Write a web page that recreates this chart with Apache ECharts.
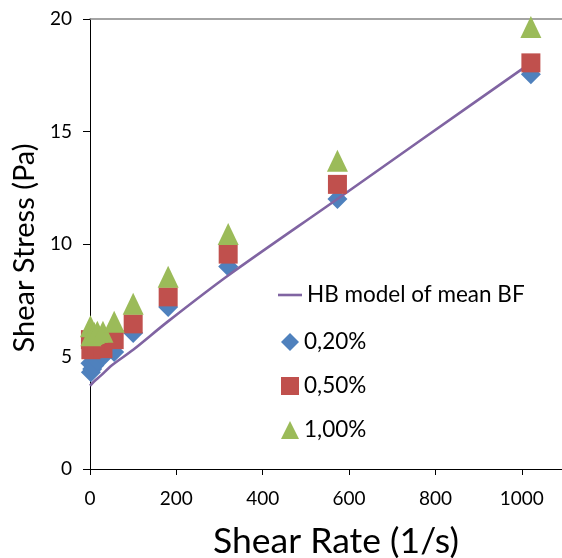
<!DOCTYPE html>
<html>
<head>
<meta charset="utf-8">
<script src="https://cdn.jsdelivr.net/npm/echarts@6/dist/echarts.min.js"></script>
<style>
  html, body { margin: 0; padding: 0; background: #fff; }
  #chart { width: 562px; height: 558px; }
</style>
</head>
<body>
<div id="chart"></div>
<script>
const shearRate = [1, 2, 5, 10, 17, 30, 56, 100, 181, 320, 573, 1021];
const stress020 = [4.7, 4.3, 4.45, 4.6, 4.8, 5.0, 5.2, 6.05, 7.2, 9.0, 12.0, 17.55];
const stress050 = [5.75, 5.3, 5.35, 5.45, 5.5, 5.35, 5.75, 6.45, 7.65, 9.55, 12.65, 18.05];
const stress100 = [6.35, 5.95, 6.0, 6.05, 6.1, 6.1, 6.55, 7.35, 8.55, 10.45, 13.7, 19.65];

// HB model line
const modelRate = [0, 10, 25, 50, 100, 180, 320, 573, 765, 1021];
const modelStress = [3.7, 3.9, 4.15, 4.6, 5.3, 6.55, 8.6, 12.0, 14.6, 18.05];

const seriesNames = ['HB model of mean BF', '0,20%', '0,50%', '1,00%'];

const FONT = 'Lato';
const pairs = (xs, ys) => xs.map((x, i) => [x, ys[i]]);
const legendText = { fontFamily: FONT, fontSize: 22.5, color: '#000', lineHeight: 24 };

const chart = echarts.init(document.getElementById('chart'));

const option = {
  animation: false,
  backgroundColor: '#fff',
  textStyle: { fontFamily: FONT },
  grid: { left: 90, top: 19, width: 475, height: 450, outerBoundsMode: 'none', containLabel: false },
  legend: [
    {
      // line entry
      orient: 'vertical',
      left: 273,
      top: 278,
      itemWidth: 24,
      itemHeight: 18,
      textStyle: legendText,
      data: [{ name: seriesNames[0], icon: 'path://M0,0H24V2.6H0Z' }]
    },
    {
      // marker entries
      orient: 'vertical',
      left: 276,
      top: 325,
      itemWidth: 18,
      itemHeight: 18,
      itemGap: 20,
      textStyle: legendText,
      data: seriesNames.slice(1)
    }
  ],
  xAxis: [
    {
      type: 'value',
      min: 0,
      max: 1100,
      interval: 200,
      name: 'Shear Rate (1/s)',
      nameLocation: 'middle',
      nameGap: 55,
      nameTextStyle: { fontFamily: FONT, fontSize: 35.5, color: '#000', padding: [0, 0, 0, 17] },
      axisLine: { lineStyle: { color: '#000', width: 1 } },
      axisTick: { inside: false, length: 6, lineStyle: { color: '#000' } },
      axisLabel: {
        fontFamily: FONT, fontSize: 19, color: '#000', margin: 20, showMaxLabel: false,
        formatter: v => String(v)
      },
      splitLine: { show: false }
    },
    {
      type: 'value',
      position: 'top',
      min: 0,
      max: 1100,
      axisLine: { show: true, lineStyle: { color: '#868686', width: 1.5 } },
      axisTick: { show: false },
      axisLabel: { show: false },
      splitLine: { show: false }
    }
  ],
  yAxis: {
    type: 'value',
    min: 0,
    max: 20,
    interval: 5,
    name: 'Shear Stress (Pa)',
    nameLocation: 'middle',
    nameGap: 46,
    nameTextStyle: { fontFamily: FONT, fontSize: 29, color: '#000', padding: [0, 8, 0, 0] },
    axisLine: { show: true, lineStyle: { color: '#000', width: 1 } },
    axisTick: { show: true, inside: false, length: 7, lineStyle: { color: '#000' } },
    axisLabel: { fontFamily: FONT, fontSize: 19, color: '#000', margin: 18 },
    splitLine: { show: false }
  },
  series: [
    {
      name: seriesNames[0],
      type: 'line',
      z: 3,
      data: pairs(modelRate, modelStress),
      smooth: 0.3,
      symbol: 'none',
      lineStyle: { color: '#8064A2', width: 2.6 },
      itemStyle: { color: '#8064A2' }
    },
    {
      name: seriesNames[1],
      type: 'scatter',
      z: 2,
      symbol: 'diamond',
      symbolSize: 20,
      data: pairs(shearRate, stress020),
      itemStyle: { color: '#4F81BD', opacity: 1 }
    },
    {
      name: seriesNames[2],
      type: 'scatter',
      z: 4,
      symbol: 'rect',
      symbolSize: 19,
      data: pairs(shearRate, stress050),
      itemStyle: { color: '#C0504D', opacity: 1 }
    },
    {
      name: seriesNames[3],
      type: 'scatter',
      z: 5,
      symbol: 'triangle',
      symbolSize: [21, 22],
      data: pairs(shearRate, stress100),
      itemStyle: { color: '#9BBB59', opacity: 1 }
    }
  ]
};

chart.setOption(option);
</script>
</body>
</html>
